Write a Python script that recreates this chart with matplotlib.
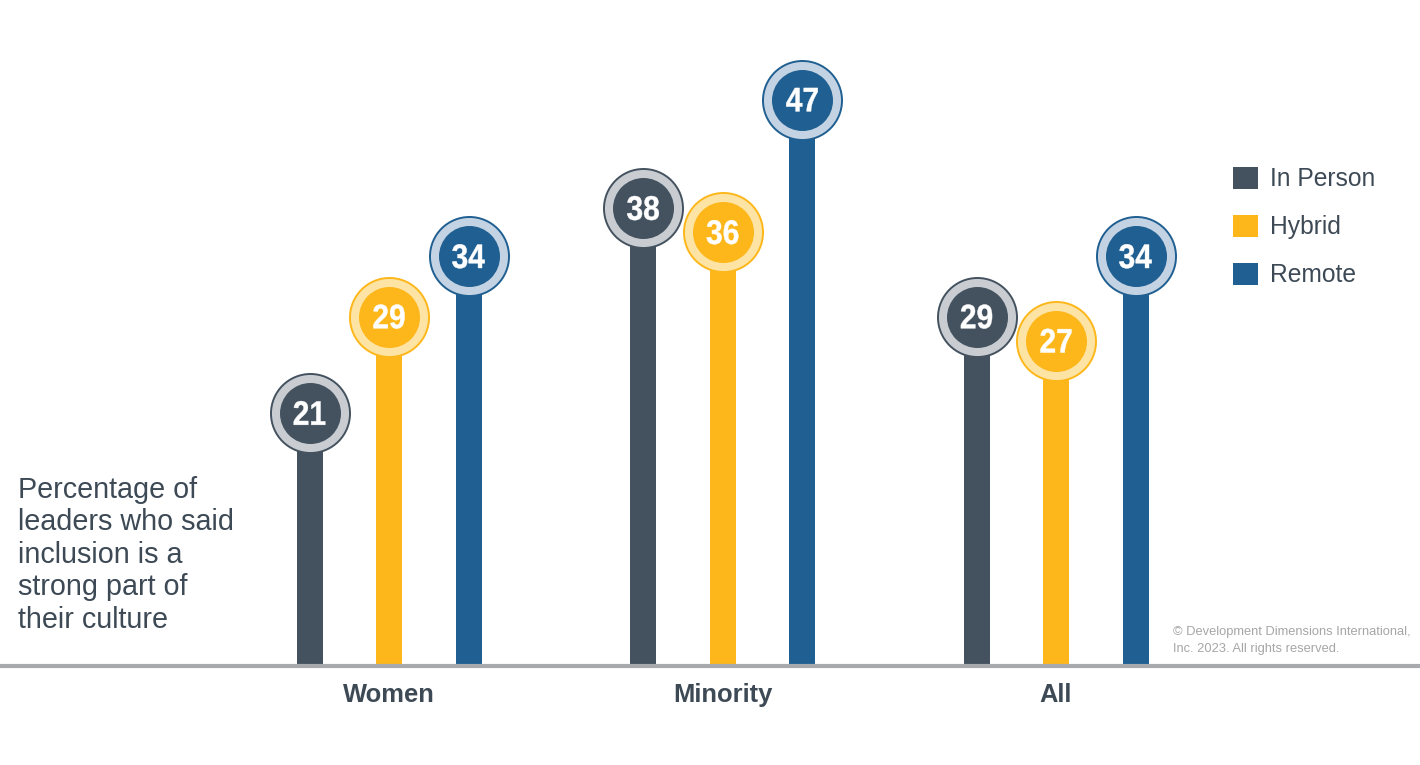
import numpy as np
import matplotlib
matplotlib.use("Agg")
import matplotlib.pyplot as plt
from matplotlib.patches import Patch, PathPatch
from matplotlib.textpath import TextPath
from matplotlib.font_manager import FontProperties
from matplotlib.transforms import Affine2D, ScaledTranslation

# data
categories = ["Women", "Minority", "All"]
series = ["In Person", "Hybrid", "Remote"]
in_person = [21, 38, 29]
hybrid = [29, 36, 27]
remote = [34, 47, 34]

colors = ["#44525f", "#fdb71a", "#1f5f91"]
ring_colors = ["#c9cdd2", "#fde4a4", "#c3d3e3"]
text_color = "#3d4a56"

plt.rcParams["font.family"] = ["Liberation Sans", "DejaVu Sans"]

fig = plt.figure(figsize=(14.2, 7.65), dpi=100)
ax = fig.add_axes([0, 0, 1, 1])
ax.set_xlim(-389 / 333.5, (1420 - 389) / 333.5)
ax.set_ylim(-99 / 12.05, (765 - 99) / 12.05)
ax.axis("off")

x = np.arange(len(categories))
offset = 79.5 / 333.5
width = 26 / 333.5
num_font = FontProperties(family="Liberation Sans", weight="bold")


def narrow_label(xi, yi, s, size=24.5, squeeze=0.88):
    # condensed-looking number label centred on a data point
    tp = TextPath((0, 0), s, size=size, prop=num_font)
    ext = tp.get_extents()
    cx = (ext.x0 + ext.x1) / 2
    cy = (ext.y0 + ext.y1) / 2
    tr = (Affine2D().translate(-cx, -cy).scale(squeeze * fig.dpi / 72, fig.dpi / 72)
          + ScaledTranslation(xi, yi, ax.transData))
    ax.add_patch(PathPatch(tp, transform=tr, facecolor="white", edgecolor="white",
                           linewidth=0.3, zorder=5))


for i, (vals, c, rc) in enumerate(zip([in_person, hybrid, remote], colors, ring_colors)):
    xs = x + (i - 1) * offset
    ax.bar(xs, vals, width=width, color=c, zorder=2)
    ax.scatter(xs, vals, s=3237, color=rc, edgecolor=c, linewidth=1.4, zorder=3)
    ax.scatter(xs, vals, s=1930, color=c, linewidth=0, zorder=4)
    for xi, v in zip(xs, vals):
        narrow_label(xi, v, str(v))

# baseline
ax.axhline(0, color="#a7a9ac", linewidth=3, zorder=3)

for xi, cat in zip(x, categories):
    ax.text(xi, -29 / 12.05, cat, ha="center", va="center", fontsize=18.4,
            fontweight="bold", color=text_color)

# left note
fig.text(18 / 1420, 1 - 476 / 765,
         "Percentage of\nleaders who said\ninclusion is a\nstrong part of\ntheir culture",
         ha="left", va="top", fontsize=20.7, color=text_color, linespacing=1.2)

# copyright
fig.text(1173 / 1420, 1 - 626 / 765,
         "© Development Dimensions International,\nInc. 2023. All rights reserved.",
         ha="left", va="top", fontsize=9.3, color="#a6a6a6", linespacing=1.6)

handles = [Patch(facecolor=c, edgecolor="none") for c in colors]
ax.legend(handles, series, loc="upper left", bbox_to_anchor=(1233 / 1420, 1 - 167 / 765),
          bbox_transform=fig.transFigure, frameon=False, fontsize=17.7,
          handlelength=1.0, handleheight=1.0, handletextpad=0.5,
          labelspacing=0.95, borderpad=0, borderaxespad=0, labelcolor=text_color)

fig.savefig("out.png", dpi=100, facecolor="white")
